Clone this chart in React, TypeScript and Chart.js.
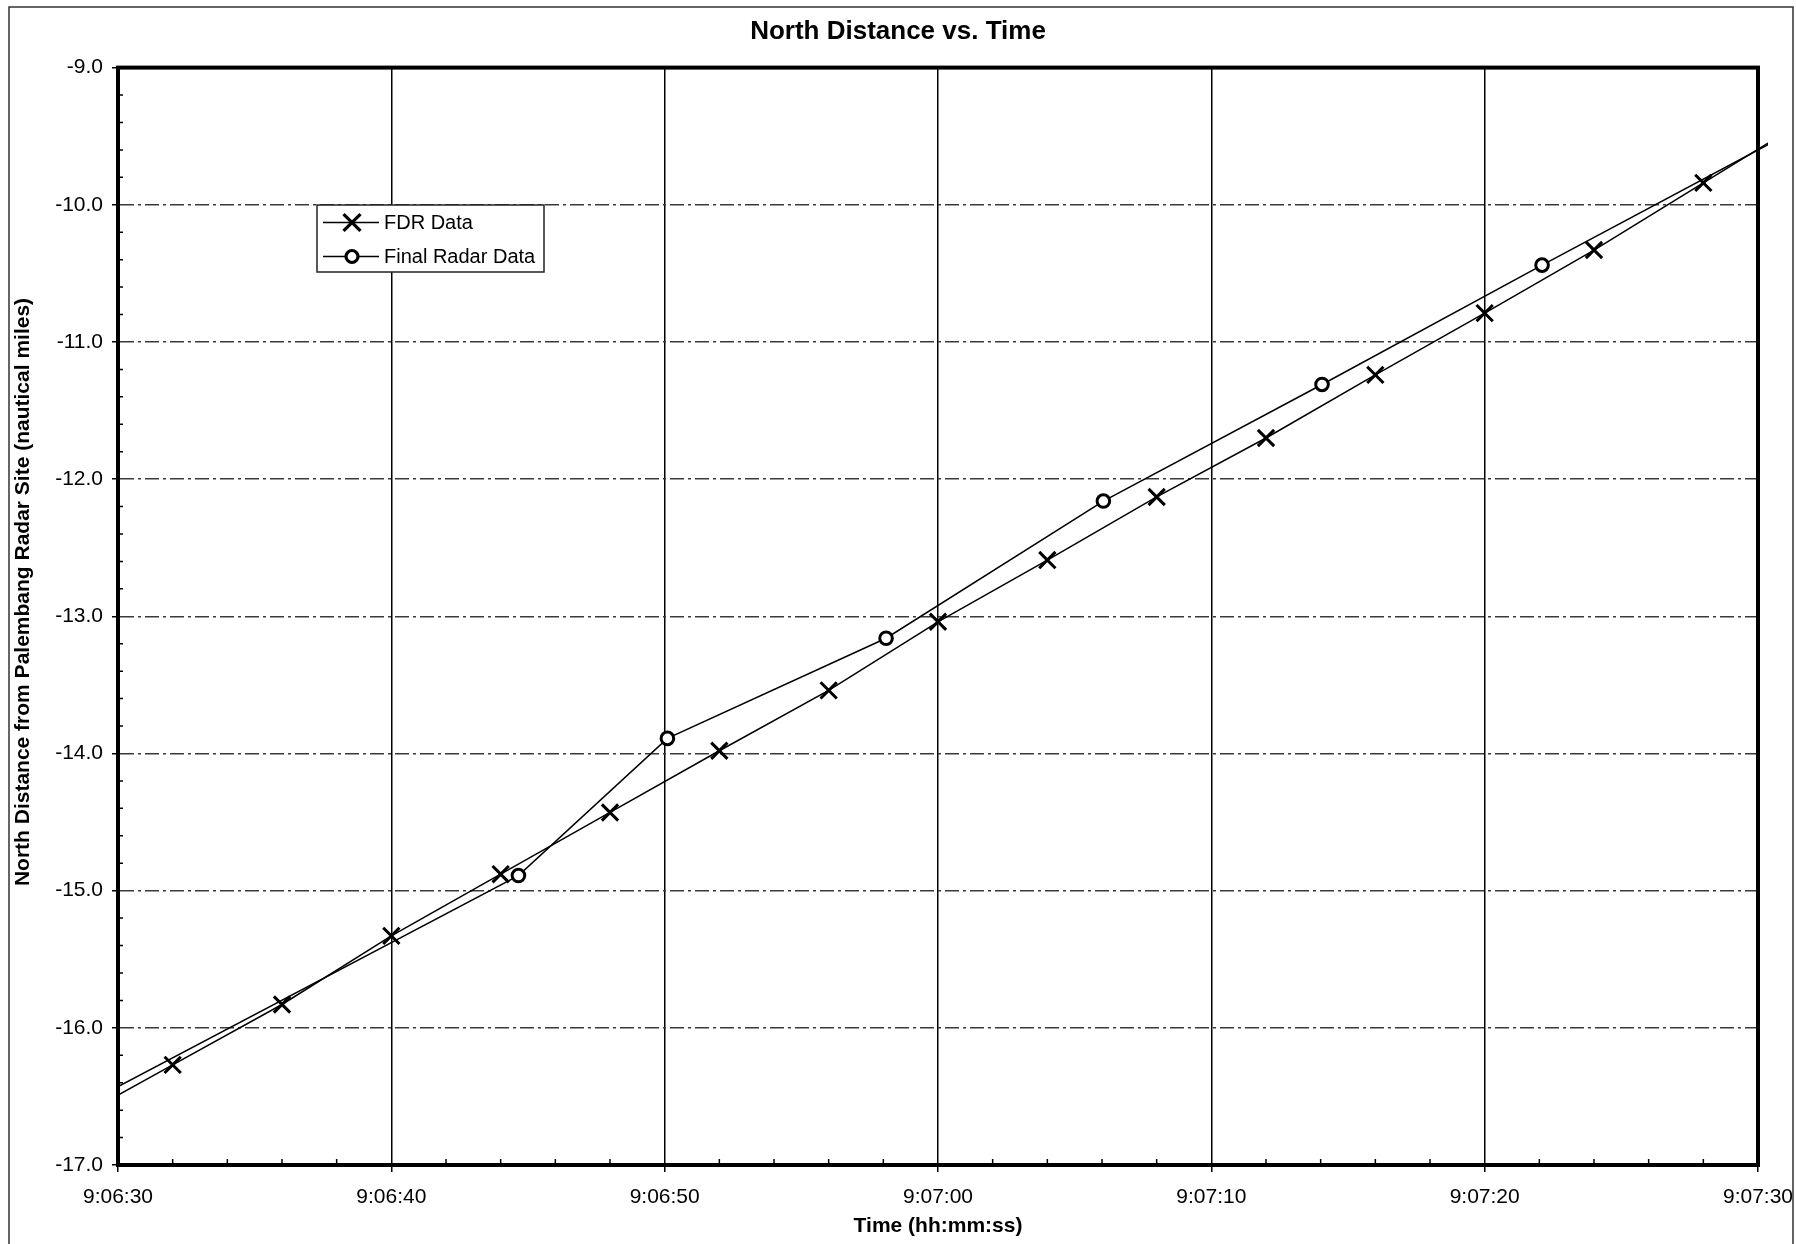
import React, { useEffect, useRef } from 'react';
import { Chart, registerables } from 'chart.js';

Chart.register(...registerables);

// Time values are seconds after 9:06:00
const fdrTimes = [28, 32, 36, 40, 44, 48, 52, 56, 60, 64, 68, 72, 76, 80, 84, 88, 92];
const fdrNorth = [-16.71, -16.27, -15.83, -15.33, -14.88, -14.43, -13.98, -13.54, -13.04, -12.59, -12.13, -11.70, -11.24, -10.79, -10.33, -9.84, -9.35];

const radarTimes = [28.65, 44.65, 50.1, 58.1, 66.05, 74.05, 82.1, 98.1];
const radarNorth = [-16.57, -14.89, -13.89, -13.16, -12.16, -11.31, -10.44, -8.74];

const xTickLabels = ['9:06:30', '9:06:40', '9:06:50', '9:07:00', '9:07:10', '9:07:20', '9:07:30'];
const xMin = 30;
const xMax = 90;
const xStep = 10;
const xMinorStep = 2;

const yMin = -17;
const yMax = -9;
const yStep = 1;
const yMinorStep = 0.2;

const titleText = 'North Distance vs. Time';
const xTitle = 'Time (hh:mm:ss)';
const yTitle = 'North Distance from Palembang Radar Site (nautical miles)';
const seriesLabels = ['FDR Data', 'Final Radar Data'];

const FONT = "'Liberation Sans', Arial, Helvetica, sans-serif";
const W = 1796;
const H = 1244;

const backgroundPlugin = {
  id: 'pageBackground',
  beforeDraw(chart: any) {
    const { ctx } = chart;
    ctx.save();
    ctx.fillStyle = '#ffffff';
    ctx.fillRect(0, 0, chart.width, chart.height);
    ctx.strokeStyle = '#333333';
    ctx.lineWidth = 1.5;
    ctx.beginPath();
    ctx.moveTo(9, chart.height + 5);
    ctx.lineTo(9, 7);
    ctx.lineTo(chart.width - 3, 7);
    ctx.lineTo(chart.width - 3, chart.height + 5);
    ctx.stroke();
    ctx.restore();
  },
};

const framePlugin = {
  id: 'plotFrame',
  beforeDatasetsDraw(chart: any) {
    const { ctx, chartArea } = chart;
    ctx.save();
    ctx.strokeStyle = '#000';
    ctx.lineWidth = 4;
    ctx.strokeRect(chartArea.left, chartArea.top, chartArea.right - chartArea.left, chartArea.bottom - chartArea.top);
    ctx.restore();
  },
  afterDraw(chart: any) {
    const { ctx, chartArea, scales } = chart;
    ctx.save();
    ctx.strokeStyle = '#000';
    ctx.lineWidth = 1.5;
    ctx.beginPath();
    const nx = Math.round((xMax - xMin) / xMinorStep);
    const rx = Math.round(xStep / xMinorStep);
    for (let i = 1; i < nx; i++) {
      if (i % rx === 0) continue;
      const px = scales.x.getPixelForValue(xMin + i * xMinorStep);
      ctx.moveTo(px, chartArea.bottom);
      ctx.lineTo(px, chartArea.bottom - 6);
    }
    const ny = Math.round((yMax - yMin) / yMinorStep);
    const ry = Math.round(yStep / yMinorStep);
    for (let i = 1; i < ny; i++) {
      if (i % ry === 0) continue;
      const py = scales.y.getPixelForValue(yMin + i * yMinorStep);
      ctx.moveTo(chartArea.left, py);
      ctx.lineTo(chartArea.left + 5, py);
    }
    ctx.stroke();

    // Y axis title (placed like the original, slightly above the plot's middle)
    ctx.translate(23, 592);
    ctx.rotate(-Math.PI / 2);
    ctx.fillStyle = '#000';
    ctx.font = `bold 21px ${FONT}`;
    ctx.textAlign = 'center';
    ctx.textBaseline = 'middle';
    ctx.fillText(yTitle, 0, 0);
    ctx.restore();
  },
};

function drawMarker(ctx: CanvasRenderingContext2D, style: string, x: number, y: number, r: number, lw: number) {
  ctx.save();
  ctx.lineWidth = lw;
  ctx.strokeStyle = '#000';
  ctx.beginPath();
  if (style === 'crossRot') {
    const o = r * Math.cos(Math.PI / 4);
    ctx.moveTo(x - o, y - o);
    ctx.lineTo(x + o, y + o);
    ctx.moveTo(x - o, y + o);
    ctx.lineTo(x + o, y - o);
    ctx.stroke();
  } else {
    ctx.arc(x, y, r, 0, Math.PI * 2);
    ctx.fillStyle = '#fff';
    ctx.fill();
    ctx.stroke();
  }
  ctx.restore();
}

const legendPlugin = {
  id: 'excelLegend',
  afterDraw(chart: any) {
    const { ctx } = chart;
    const bx = 317;
    const by = 205;
    const bw = 227;
    const bh = 67;
    ctx.save();
    ctx.fillStyle = '#fff';
    ctx.fillRect(bx, by, bw, bh);
    ctx.strokeStyle = '#222';
    ctx.lineWidth = 1.5;
    ctx.strokeRect(bx, by, bw, bh);
    const rows = [222.5, 256.5];
    chart.data.datasets.forEach((ds: any, i: number) => {
      const y = rows[i];
      ctx.strokeStyle = '#000';
      ctx.lineWidth = 1.5;
      ctx.beginPath();
      ctx.moveTo(323, y);
      ctx.lineTo(379, y);
      ctx.stroke();
      drawMarker(ctx, ds.pointStyle, 352, y, ds.pointStyle === 'crossRot' ? 12 : 6, 3.2);
      ctx.fillStyle = '#000';
      ctx.font = `20px ${FONT}`;
      ctx.textAlign = 'left';
      ctx.textBaseline = 'middle';
      ctx.fillText(ds.label, 384, y + 1);
    });
    ctx.restore();
  },
};

export default function App() {
  const ref = useRef<HTMLCanvasElement>(null);

  useEffect(() => {
    const canvas = ref.current;
    if (!canvas) return;
    const fdrPoints = fdrTimes.map((t, i) => ({ x: t, y: fdrNorth[i] }));
    const radarPoints = radarTimes.map((t, i) => ({ x: t, y: radarNorth[i] }));
    const clip = { left: 0, top: 0, right: 10, bottom: 0 };

    const chart = new Chart(canvas, {
      type: 'line',
      data: {
        datasets: [
          {
            label: seriesLabels[0],
            data: fdrPoints,
            borderColor: '#000',
            borderWidth: 1.5,
            pointStyle: 'crossRot',
            pointRadius: 11.5,
            pointBorderWidth: 3,
            pointBorderColor: '#000',
            pointBackgroundColor: '#000',
            tension: 0,
            fill: false,
            clip,
          } as any,
          {
            label: seriesLabels[1],
            data: radarPoints,
            borderColor: '#000',
            borderWidth: 1.5,
            pointStyle: 'circle',
            pointRadius: 6.3,
            pointBorderWidth: 3,
            pointBorderColor: '#000',
            pointBackgroundColor: '#fff',
            tension: 0,
            fill: false,
            clip,
          } as any,
        ],
      },
      options: {
        animation: false,
        responsive: false,
        devicePixelRatio: 1,
        layout: { padding: { left: 0, right: 0, top: 0, bottom: 0 } },
        plugins: {
          legend: { display: false },
          tooltip: { enabled: false },
          title: {
            display: true,
            text: titleText,
            color: '#000',
            font: { family: FONT, size: 26, weight: 'bold' },
            padding: { top: 16.4, bottom: 20 },
          },
        },
        scales: {
          x: {
            type: 'linear',
            min: xMin,
            max: xMax,
            afterFit: (scale: any) => {
              scale.height = 79;
              scale.paddingLeft = 0;
              scale.paddingRight = 38;
            },
            ticks: {
              stepSize: xStep,
              color: '#000',
              font: { family: FONT, size: 21 },
              padding: 13,
              maxRotation: 0,
              autoSkip: false,
              callback: (_v: any, index: number) => xTickLabels[index],
            },
            grid: {
              color: '#000',
              lineWidth: 1.5,
              tickLength: 7,
              tickColor: '#000',
              tickWidth: 1.5,
              tickBorderDash: [],
            },
            border: { display: true, color: '#000', width: 4 },
            title: {
              display: true,
              text: xTitle,
              color: '#000',
              font: { family: FONT, size: 21, weight: 'bold' },
              padding: { top: 0, bottom: 5.4 },
            },
          },
          y: {
            type: 'linear',
            min: yMin,
            max: yMax,
            afterFit: (scale: any) => {
              scale.width = 118;
            },
            ticks: {
              stepSize: yStep,
              color: '#000',
              font: { family: FONT, size: 21 },
              padding: 9,
              callback: (v: any) => Number(v).toFixed(1),
            },
            grid: {
              color: '#3a3a3a',
              lineWidth: 1.5,
              tickLength: 6,
              tickColor: '#000',
              tickWidth: 1.5,
              tickBorderDash: [],
            },
            border: { display: true, color: '#000', width: 4, dash: [14, 4, 3, 4] },
            title: { display: false, text: yTitle },
          },
        },
      },
      plugins: [backgroundPlugin, framePlugin, legendPlugin],
    } as any);

    return () => chart.destroy();
  }, []);

  return (
    <div style={{ position: 'fixed', left: 0, top: 0, width: W, height: H, background: '#fff' }}>
      <canvas ref={ref} width={W} height={H} style={{ display: 'block', width: W, height: H }} />
    </div>
  );
}
